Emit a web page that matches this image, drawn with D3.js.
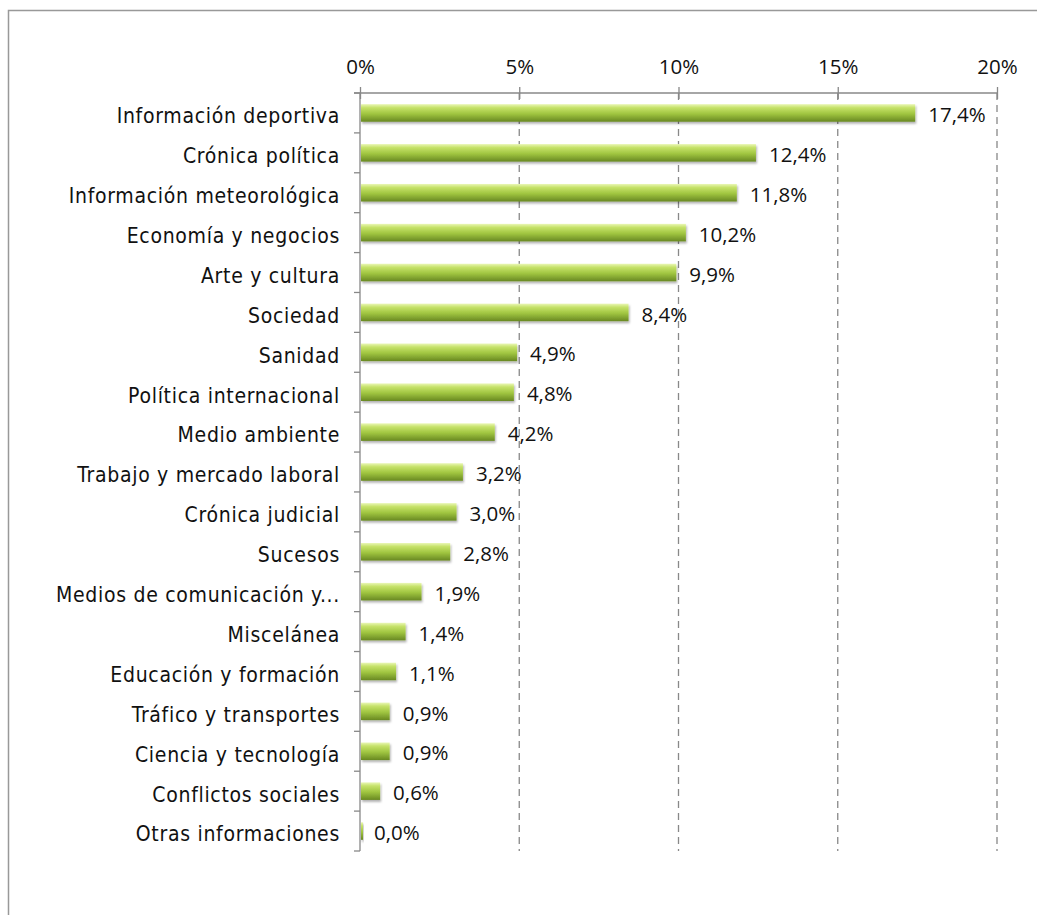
<!DOCTYPE html>
<html>
<head>
<meta charset="utf-8">
<script src="https://cdn.jsdelivr.net/npm/d3@7"></script>
<style>
  body { margin: 0; background: #fff; }
  .cat { font-family: "DejaVu Sans Condensed", "Liberation Sans", sans-serif; font-size: 21px; letter-spacing: 0.7px; fill: #111; }
  .val { font-family: "Open Sans", "Noto Sans", sans-serif; font-size: 20.5px; fill: #111; }
</style>
</head>
<body>
<svg id="chart" width="1037" height="915"></svg>
<script>
// categories top to bottom
const categories = [
    "Información deportiva", "Crónica política", "Información meteorológica",
    "Economía y negocios", "Arte y cultura", "Sociedad", "Sanidad",
    "Política internacional", "Medio ambiente", "Trabajo y mercado laboral",
    "Crónica judicial", "Sucesos", "Medios de comunicación y...", "Miscelánea",
    "Educación y formación", "Tráfico y transportes", "Ciencia y tecnología",
    "Conflictos sociales", "Otras informaciones"
];
const values = [17.4, 12.4, 11.8, 10.2, 9.9, 8.4, 4.9, 4.8, 4.2, 3.2, 3.0, 2.8, 1.9, 1.4, 1.1, 0.9, 0.9, 0.6, 0.0];
const tickValues = [0, 5, 10, 15, 20];

(function() {
    const svg = d3.select("#chart");

    // outer frame (runs off the right and bottom edge like the source)
    svg.append("rect")
        .attr("x", 8.5).attr("y", 10.5)
        .attr("width", 1040).attr("height", 920)
        .attr("fill", "none")
        .attr("stroke", "#999")
        .attr("stroke-width", 1.5);

    const left = 360, right = 997, plotTop = 93, plotBottom = 851;

    const x = d3.scaleLinear().domain([0, 20]).range([left, right]);
    const y = d3.scaleBand().domain(categories).range([plotTop, plotBottom]).paddingInner(0.56).paddingOuter(0.28);

    const defs = svg.append("defs");
    const grad = defs.append("linearGradient")
        .attr("id", "barGrad")
        .attr("x1", 0).attr("y1", 0).attr("x2", 0).attr("y2", 1);
    grad.append("stop").attr("offset", "0%").attr("stop-color", "#eaf7b6");
    grad.append("stop").attr("offset", "20%").attr("stop-color", "#c6e26a");
    grad.append("stop").attr("offset", "55%").attr("stop-color", "#a0c540");
    grad.append("stop").attr("offset", "100%").attr("stop-color", "#68882220".slice(0, 7));

    const shadow = defs.append("filter").attr("id", "shadow")
        .attr("x", "-5%").attr("y", "-30%").attr("width", "115%").attr("height", "190%");
    shadow.append("feDropShadow")
        .attr("dx", 1).attr("dy", 2).attr("stdDeviation", 1.2)
        .attr("flood-color", "#000").attr("flood-opacity", 0.3);

    // dashed gridlines
    svg.append("g")
        .selectAll("line")
        .data(tickValues.filter(d => d > 0))
        .enter()
        .append("line")
        .attr("x1", d => x(d)).attr("x2", d => x(d))
        .attr("y1", plotTop).attr("y2", plotBottom)
        .attr("stroke", "#888")
        .attr("stroke-width", 1.3)
        .attr("stroke-dasharray", "7,5");

    // top axis
    const xAxis = d3.axisTop(x)
        .tickValues(tickValues)
        .tickSize(6)
        .tickPadding(13)
        .tickFormat(d => d + "%");
    const gx = svg.append("g")
        .attr("transform", "translate(0," + plotTop + ")")
        .call(xAxis);
    gx.select(".domain").attr("stroke", "#888").attr("stroke-width", 1.3)
        .attr("d", "M" + (left - 6) + ",0H" + right);
    gx.selectAll(".tick line").attr("stroke", "#888").attr("stroke-width", 1.3).attr("y2", 6).attr("y1", -6);
    gx.attr("font-family", null).attr("font-size", null);
    gx.selectAll(".tick text")
        .attr("class", "val")
        .attr("fill", "#111");

    // left axis line + ticks at band edges
    svg.append("line")
        .attr("x1", left).attr("x2", left)
        .attr("y1", plotTop).attr("y2", plotBottom)
        .attr("stroke", "#888").attr("stroke-width", 1.3);
    const edges = d3.range(categories.length + 1).map(i => plotTop + i * (plotBottom - plotTop) / categories.length);
    svg.append("g")
        .selectAll("line")
        .data(edges)
        .enter()
        .append("line")
        .attr("x1", left - 6).attr("x2", left)
        .attr("y1", d => d).attr("y2", d => d)
        .attr("stroke", "#888").attr("stroke-width", 1.3);

    // bars
    svg.append("g")
        .selectAll("rect")
        .data(values)
        .enter()
        .append("rect")
        .attr("x", x(0) + 1)
        .attr("y", (d, i) => y(categories[i]))
        .attr("width", d => Math.max(2, x(d) - x(0)))
        .attr("height", y.bandwidth())
        .attr("fill", "url(#barGrad)")
        .attr("filter", "url(#shadow)");

    // category labels
    svg.append("g")
        .selectAll("text")
        .data(categories)
        .enter()
        .append("text")
        .attr("class", "cat")
        .attr("x", left - 20)
        .attr("y", d => y(d) + y.bandwidth() / 2 + 3)
        .attr("dy", "0.35em")
        .attr("text-anchor", "end")
        .text(d => d);

    // value labels
    svg.append("g")
        .selectAll("text")
        .data(values)
        .enter()
        .append("text")
        .attr("class", "val")
        .attr("x", d => x(d) + 14)
        .attr("y", (d, i) => y(categories[i]) + y.bandwidth() / 2 + 2)
        .attr("dy", "0.35em")
        .text(d => d.toFixed(1).replace(".", ",") + "%");
})();
</script>
</body>
</html>
